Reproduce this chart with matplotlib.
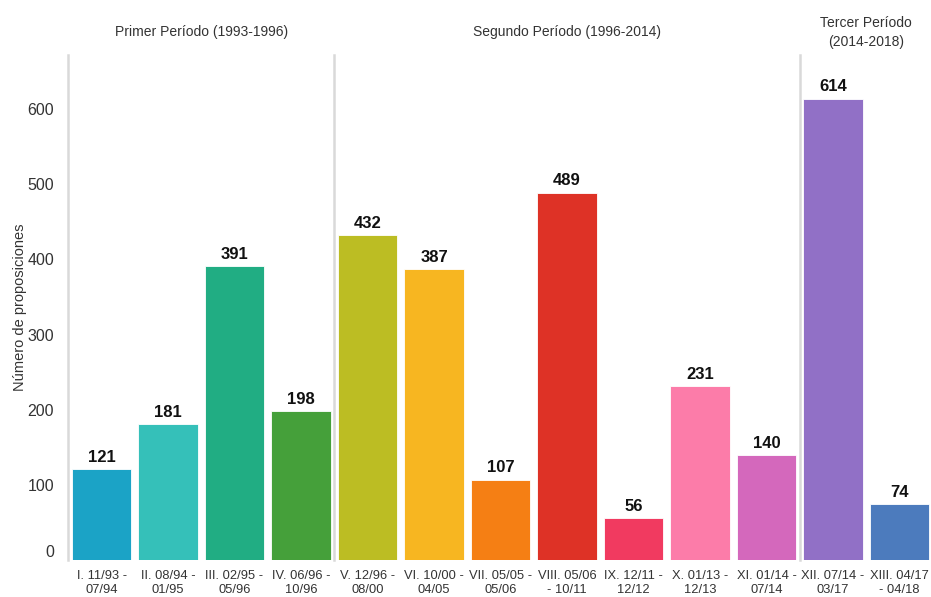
import matplotlib
matplotlib.use("Agg")
import matplotlib.pyplot as plt

plt.rcParams['font.family'] = ['Liberation Sans', 'DejaVu Sans']

categories = ["I. 11/93 -\n07/94", "II. 08/94 -\n01/95", "III. 02/95 -\n05/96", "IV. 06/96 -\n10/96",
              "V. 12/96 -\n08/00", "VI. 10/00 -\n04/05", "VII. 05/05 -\n05/06", "VIII. 05/06\n- 10/11",
              "IX. 12/11 -\n12/12", "X. 01/13 -\n12/13", "XI. 01/14 -\n07/14", "XII. 07/14 -\n03/17",
              "XIII. 04/17\n- 04/18"]
values = [121, 181, 391, 198, 432, 387, 107, 489, 56, 231, 140, 614, 74]
colors = ["#1ba3c6", "#35c0b9", "#21ad83", "#45a03a", "#bcbd23", "#f7b621", "#f57f14", "#de3226",
          "#f13a60", "#fc7ca9", "#d468bc", "#9170c6", "#4c7bbd"]
periods = ["Primer Período (1993-1996)", "Segundo Período (1996-2014)", "Tercer Período\n(2014-2018)"]
period_ranges = [(0, 3), (4, 10), (11, 12)]
separators = [-0.5, 3.5, 10.5]
yticks = [0, 100, 200, 300, 400, 500, 600]

fig = plt.figure(figsize=(9.31, 5.97), dpi=100)
ax = fig.add_axes([68/931, 37/597, (930-68)/931, (560-55)/597])

x = list(range(len(values)))
bars = ax.bar(x, values, width=0.89, color=colors, edgecolor="white", linewidth=0.6, zorder=2)
for xi, v in zip(x, values):
    ax.annotate(str(v), (xi, v), xytext=(0, 3), textcoords="offset points",
                ha="center", va="bottom", fontsize=12, fontweight="bold", color="#111111")

for s in separators:
    ax.axvline(s, color="#d9d9d9", linewidth=1.8, zorder=1, clip_on=False)

for (a, b), name in zip(period_ranges, periods):
    ax.text((a + b) / 2, 1.045, name, transform=ax.get_xaxis_transform(),
            ha="center", va="center", fontsize=10, color="#333333", linespacing=1.5)

ax.set_xlim(-0.505, 12.46)
ax.set_ylim(0, 672)
ax.set_xticks(x)
ax.set_xticklabels(categories, fontsize=9.3, color="#333333", linespacing=1.25)
ax.set_yticks(yticks)
ax.set_yticklabels([str(t) for t in yticks], fontsize=11.5, color="#333333")
ax.tick_params(axis="y", length=0, pad=10)
ax.tick_params(axis="x", length=0, pad=7)
ax.get_yticklabels()[0].set_verticalalignment("bottom")
for sp in ax.spines.values():
    sp.set_visible(False)
ax.set_ylabel("Número de proposiciones", fontsize=10.5, color="#333333", labelpad=0)

fig.savefig("out.png", dpi=100)
